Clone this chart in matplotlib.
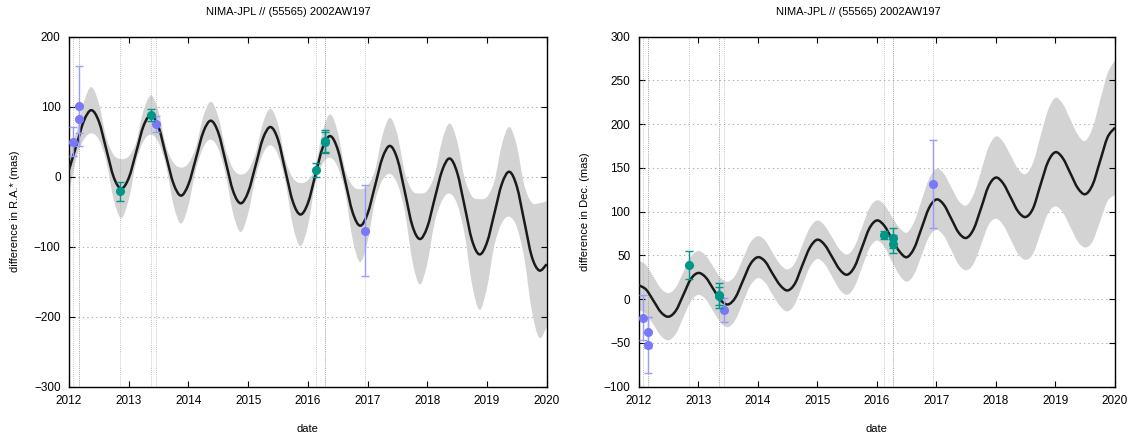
import matplotlib
matplotlib.use("Agg")
import matplotlib.pyplot as plt
import numpy as np
from matplotlib.path import Path
from matplotlib.patches import PathPatch

plt.rcParams['font.family'] = ['Liberation Sans', 'DejaVu Sans']
plt.rcParams['font.size'] = 8

TITLE = "NIMA-JPL // (55565) 2002AW197"
years = [2012, 2013, 2014, 2015, 2016, 2017, 2018, 2019, 2020]

# model curves sampled every 1/8 year from 2012.0 to 2020.0 (65 values)
grid_start = 2012.0
grid_step = 0.125

ra_mean = [10, 45, 80, 95, 79, 39, -1, -17, -2, 35, 73, 88, 71, 30, -10, -27,
           -11, 26, 64, 80, 63, 21, -21, -38, -22, 16, 55, 71, 53, 8, -36, -54,
           -38, 2, 42, 58, 39, -6, -51, -70, -53, -13, 27, 44, 25, -22, -70, -89,
           -72, -31, 9, 26, 6, -42, -91, -111, -94, -52, -10, 7, -14, -64, -114, -134,
           -125]
ra_halfwidth = [34, 18, 27, 33, 26, 17, 32, 42, 31, 14, 22, 28, 22, 14, 30, 40,
                30, 16, 22, 27, 23, 18, 32, 41, 31, 17, 22, 26, 22, 16, 34, 45,
                33, 12, 23, 31, 25, 16, 38, 52, 40, 22, 32, 40, 35, 28, 50, 65,
                52, 34, 43, 50, 45, 40, 63, 79, 65, 46, 56, 64, 58, 52, 77, 96,
                90]

de_mean = [16, 11, -2, -15, -20, -13, 5, 23, 30, 25, 12, -1, -6, 2, 21, 40,
           48, 43, 29, 16, 10, 18, 39, 59, 68, 62, 48, 34, 28, 37, 59, 81,
           90, 84, 69, 55, 48, 58, 81, 104, 114, 108, 92, 76, 70, 80, 104, 129,
           139, 132, 116, 100, 94, 104, 131, 157, 168, 161, 144, 127, 120, 131, 158, 185,
           196]
de_halfwidth = [28, 28, 27.5, 27, 27, 26.5, 26, 25.5, 25, 25, 25.5, 25.5, 26, 25.5, 25, 24.5,
                24, 24, 24, 24, 24, 23.5, 23, 22.5, 22, 22, 22.5, 23, 23, 23, 23, 23,
                23, 24, 25.5, 27, 28, 30, 31.5, 33, 35, 35.5, 36, 36.5, 37, 39.5, 42, 44.5,
                47, 47.5, 48, 48.5, 49, 52, 55.5, 59, 62, 62, 61.5, 61, 61, 65, 69, 73,
                77]

# observations
ra_blue_t = [2012.06, 2012.16, 2012.16, 2013.45, 2016.95]
ra_blue_v = [50, 101, 82, 75, -77]
ra_blue_e = [21, 57, 19, 11, 64.5]
ra_teal_t = [2012.85, 2013.37, 2016.13, 2016.28, 2016.28]
ra_teal_v = [-21, 88, 9, 50.5, 49.5]
ra_teal_e = [14, 8, 10, 16, 14]

de_blue_t = [2012.07, 2012.15, 2012.15, 2013.44, 2016.95]
de_blue_v = [-21, -38, -52.7, -12, 131.7]
de_blue_e = [25.8, 18, 32, 13.5, 50]
de_teal_t = [2012.84, 2013.35, 2013.35, 2016.12, 2016.27, 2016.27]
de_teal_v = [39, 4.5, 4, 73, 70, 63]
de_teal_e = [16, 14, 10.5, 4.5, 11, 10]

BLUE = '#7878f8'
BLUE_ERR = '#9a9aff'
TEAL = '#009688'
BAND = '#d3d3d3'


def smooth_verts(x, y):
    """Catmull-Rom style Bezier control points through the sampled values."""
    P = np.column_stack([x, y]).astype(float)
    n = len(P)
    verts = [P[0]]
    for i in range(n - 1):
        p0 = P[i - 1] if i > 0 else P[i]
        p1 = P[i]
        p2 = P[i + 1]
        p3 = P[i + 2] if i + 2 < n else P[i + 1]
        verts.append(p1 + (p2 - p0) / 6.0)
        verts.append(p2 - (p3 - p1) / 6.0)
        verts.append(p2)
    return np.array(verts)


def line_path(x, y):
    v = smooth_verts(x, y)
    codes = [Path.MOVETO] + [Path.CURVE4] * (len(v) - 1)
    return Path(v, codes)


def band_path(x, lo, hi):
    vu = smooth_verts(x, hi)
    vl = smooth_verts(x, lo)[::-1]
    verts = np.vstack([vu, vl, vu[:1]])
    codes = ([Path.MOVETO] + [Path.CURVE4] * (len(vu) - 1)
             + [Path.LINETO] + [Path.CURVE4] * (len(vl) - 1) + [Path.CLOSEPOLY])
    return Path(verts, codes)


def draw_panel(ax, mean, hw, bt, bv, be, tt, tv, te, ylim, yticks, ylabel):
    mean = np.array(mean, float)
    hw = np.array(hw, float)
    t = grid_start + grid_step * np.arange(len(mean))
    ax.set_xlim(years[0], years[-1])
    ax.set_ylim(*ylim)
    for yv in yticks:
        ax.axhline(yv, color='#b0b0b0', lw=0.8, ls=(0, (1.2, 2.8)), zorder=0)
    ax.add_patch(PathPatch(band_path(t, mean - hw, mean + hw), facecolor=BAND,
                           edgecolor='none', zorder=1))
    for tx in list(bt) + list(tt):
        ax.axvline(tx, color='#9a9a9a', lw=0.6, ls=(0, (1, 1.5)), alpha=0.75, zorder=2)
    ax.add_patch(PathPatch(line_path(t, mean), facecolor='none', edgecolor='#1a1a1a',
                           lw=1.8, zorder=3))
    ax.errorbar(bt, bv, yerr=be, fmt='o', color=BLUE, ecolor=BLUE_ERR, ms=5.5,
                elinewidth=1.0, capsize=3, capthick=1.0, zorder=4)
    ax.errorbar(tt, tv, yerr=te, fmt='o', color=TEAL, ecolor=TEAL, ms=5.5,
                elinewidth=1.0, capsize=3, capthick=1.0, zorder=5)
    ax.set_xticks(years)
    ax.set_xticklabels([str(y) for y in years])
    ax.set_yticks(yticks)
    ax.tick_params(direction='in', length=4, width=0.8, top=True, right=True,
                   labelsize=8.5, pad=6)
    for s in ax.spines.values():
        s.set_linewidth(1.0)
    ax.set_xlabel('date', fontsize=8, va='center')
    ax.xaxis.set_label_coords(0.5, -0.121)
    ax.set_ylabel(ylabel, fontsize=8, va='center')
    ax.yaxis.set_label_coords(-0.112, 0.5)


W, H = 1131, 436
fig = plt.figure(figsize=(W / 100, H / 100), dpi=100)
ax1 = fig.add_axes([69 / W, 1 - 386.7 / H, (546.7 - 69) / W, 350 / H])
ax2 = fig.add_axes([638.7 / W, 1 - 386.7 / H, (1115 - 638.7) / W, 350 / H])

draw_panel(ax1, ra_mean, ra_halfwidth, ra_blue_t, ra_blue_v, ra_blue_e,
           ra_teal_t, ra_teal_v, ra_teal_e, (-300, 200),
           [-300, -200, -100, 0, 100, 200], 'difference in R.A.* (mas)')
draw_panel(ax2, de_mean, de_halfwidth, de_blue_t, de_blue_v, de_blue_e,
           de_teal_t, de_teal_v, de_teal_e, (-100, 300),
           [-100, -50, 0, 50, 100, 150, 200, 250, 300], 'difference in Dec. (mas)')

fig.text(288 / W, 1 - 12 / H, TITLE, ha='center', va='center', fontsize=8)
fig.text(858 / W, 1 - 12 / H, TITLE, ha='center', va='center', fontsize=8)

fig.savefig('out.png', dpi=100)
